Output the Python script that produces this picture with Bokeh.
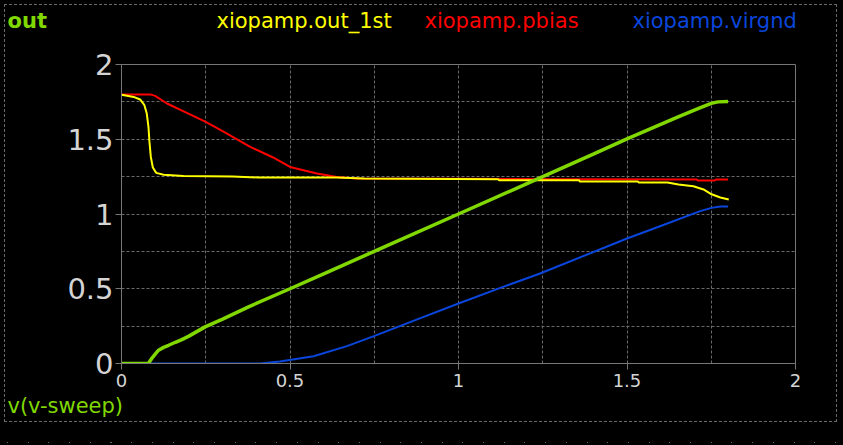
from bokeh.plotting import figure
from bokeh.models import Range1d, FixedTicker, Title
from bokeh.layouts import column
from bokeh.embed import file_html
from bokeh.resources import INLINE

# ---- data ----
out_x = [0, 0.08, 0.09, 0.10, 0.11, 0.125, 0.14, 0.16, 0.179, 0.2, 0.248, 0.3, 0.377,
         0.5, 0.6, 0.8, 1.0, 1.2, 1.4, 1.5, 1.6, 1.65, 1.7, 1.72, 1.75, 1.77, 1.8]
out_y = [0, 0, 0.035, 0.062, 0.089, 0.108, 0.122, 0.142, 0.16, 0.183, 0.245, 0.297, 0.379,
         0.5, 0.6, 0.8, 1.0, 1.2, 1.4, 1.503, 1.6, 1.648, 1.695, 1.713, 1.74, 1.75, 1.752]

o1_x = [0, 0.036, 0.055, 0.068, 0.075, 0.08, 0.083, 0.087, 0.093, 0.103, 0.125, 0.184, 0.33,
        0.407, 0.637, 0.72, 1.118, 1.12, 1.358, 1.36, 1.532, 1.535, 1.62, 1.653, 1.697, 1.727,
        1.751, 1.777, 1.802]
o1_y = [1.797, 1.783, 1.766, 1.728, 1.672, 1.583, 1.482, 1.382, 1.311, 1.275, 1.262, 1.255, 1.251,
        1.244, 1.244, 1.237, 1.233, 1.226, 1.226, 1.217, 1.217, 1.211, 1.211, 1.197, 1.186, 1.164,
        1.132, 1.110, 1.097]

pb_x = [0, 0.085, 0.1, 0.135, 0.2, 0.25, 0.3, 0.382, 0.45, 0.5, 0.58, 0.639, 0.7, 1.0, 1.3,
        1.707, 1.71, 1.76, 1.765, 1.8]
pb_y = [1.8, 1.8, 1.79, 1.739, 1.67, 1.616, 1.555, 1.449, 1.378, 1.315, 1.271, 1.248, 1.237,
        1.235, 1.233, 1.231, 1.224, 1.224, 1.231, 1.231]

vg_x = [0, 0.41, 0.47, 0.57, 0.669, 0.751, 0.866, 1.0, 1.124, 1.242, 1.5, 1.6, 1.717, 1.751,
        1.777, 1.8]
vg_y = [0, 0, 0.013, 0.049, 0.116, 0.185, 0.285, 0.401, 0.506, 0.602, 0.836, 0.92, 1.019, 1.041,
        1.05, 1.05]

major_ticks = [0, 0.5, 1, 1.5, 2]
grid_ticks = [0.25, 0.5, 0.75, 1.0, 1.25, 1.5, 1.75]

GREEN = "#80d800"
YELLOW = "#ffff00"
RED = "#ff0000"
BLUE = "#0a46dc"
FONT = "DejaVu Sans"

p = figure(width=841, height=426, output_backend="svg", toolbar_location=None,
           x_range=Range1d(0, 2), y_range=Range1d(0, 2),
           min_border_left=121, min_border_right=46, min_border_top=64, min_border_bottom=63)
p.background_fill_color = "black"
p.border_fill_color = None
p.outline_line_color = "#777777"
p.outline_line_width = 1
p.styles = {"outline": "1px dashed #6a6a6a", "outline-offset": "-5px"}

for ax in (p.xaxis[0], p.yaxis[0]):
    ax.axis_line_color = "#777777"
    ax.major_tick_line_color = "#777777"
    ax.major_tick_out = 6
    ax.major_tick_in = 0
    ax.minor_tick_line_color = None
    ax.major_label_text_color = "#d4d4d4"
    ax.major_label_text_font = FONT
p.xaxis.ticker = FixedTicker(ticks=major_ticks, minor_ticks=[])
p.yaxis.ticker = FixedTicker(ticks=major_ticks, minor_ticks=[])
p.xaxis.major_label_text_font_size = "18px"
p.xaxis.major_label_standoff = 4
p.yaxis.major_label_text_font_size = "29px"
p.yaxis.major_label_standoff = 2

for g in (p.xgrid[0], p.ygrid[0]):
    g.ticker = FixedTicker(ticks=grid_ticks)
    g.grid_line_color = "#6a6a6a"
    g.grid_line_dash = "3 2"
    g.grid_line_width = 1

p.line(vg_x, vg_y, line_color=BLUE, line_width=2)
p.line(pb_x, pb_y, line_color=RED, line_width=2)
p.line(o1_x, o1_y, line_color=YELLOW, line_width=2)
p.line(out_x, out_y, line_color=GREEN, line_width=3.5)

# top row texts as stacked titles (spacer first, then near-zero-height bands)
def top_title(text, color, offset, standoff, bold=False):
    p.add_layout(Title(text=text, text_color=color, text_font=FONT, text_font_size="21px",
                       text_font_style="bold" if bold else "normal", align="left",
                       offset=offset, standoff=standoff, vertical_align="bottom"), "above")

top_title(" ", "black", 0, 18.5)
top_title("xiopamp.out_1st", YELLOW, 95, -27)
top_title("xiopamp.pbias", RED, 303, -27)
top_title("xiopamp.virgnd", BLUE, 511, -27)
top_title("out", GREEN, -114, -27, bold=True)

p.add_layout(Title(text="v(v-sweep)", text_color=GREEN, text_font=FONT, text_font_size="21px",
                   text_font_style="normal", align="left", offset=-114, standoff=4), "below")

layout = column(p, width=843, height=445, styles={
    "background-color": "#000000",
    "background-image": "repeating-linear-gradient(to right, #6a6a6a 0px, #6a6a6a 1px, transparent 1px, transparent 20.7px)",
    "background-size": "836px 1px",
    "background-position": "7px 442px",
    "background-repeat": "no-repeat",
})
open("out.html", "w").write(file_html(layout, INLINE))
